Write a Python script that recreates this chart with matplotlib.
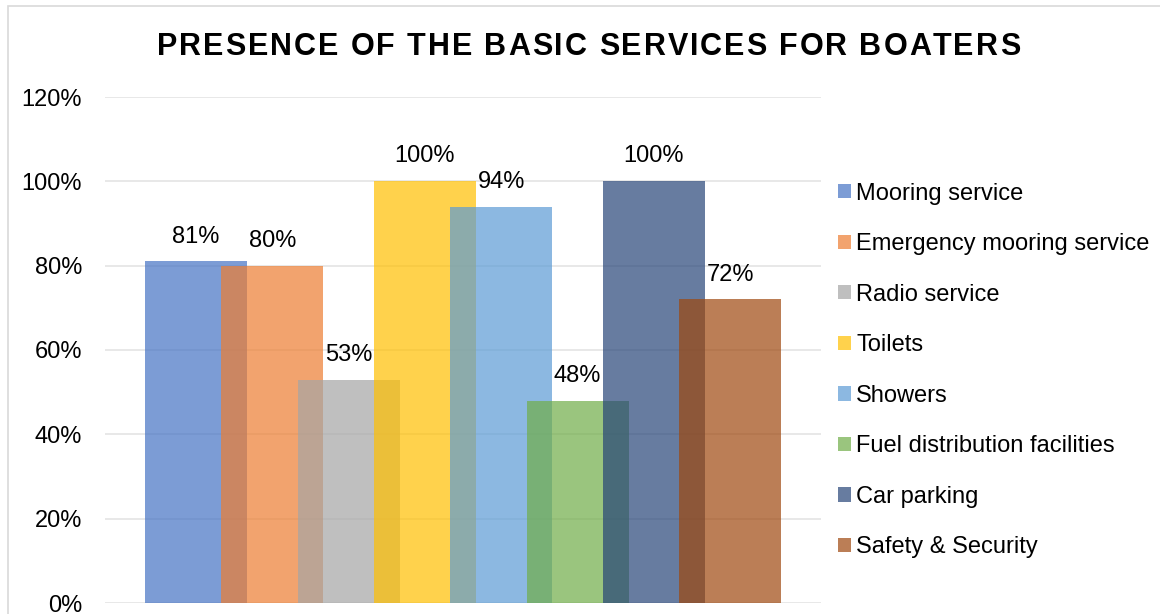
import numpy as np
import matplotlib
matplotlib.use("Agg")
import matplotlib.pyplot as plt
from matplotlib.patches import Patch, Rectangle
from matplotlib.ticker import FuncFormatter
from matplotlib.ft2font import FT2Font
from matplotlib.font_manager import findfont, FontProperties

plt.rcParams['font.family'] = ['Liberation Sans', 'DejaVu Sans']

title = "PRESENCE OF THE BASIC SERVICES FOR BOATERS"
services = ["Mooring service", "Emergency mooring service", "Radio service", "Toilets",
            "Showers", "Fuel distribution facilities", "Car parking", "Safety & Security"]
shares = [0.81, 0.80, 0.53, 1.00, 0.94, 0.48, 1.00, 0.72]
colors = ["#4472C4", "#ED7D31", "#A5A5A5", "#FFC000",
          "#5B9BD5", "#70AD47", "#264478", "#9E480E"]
yticks = [0.0, 0.2, 0.4, 0.6, 0.8, 1.0, 1.2]

W, H, DPI = 1160, 614, 100
fig = plt.figure(figsize=(W / DPI, H / DPI), dpi=DPI)
fig.patch.set_facecolor("white")

# chart-area border
fig.add_artist(Rectangle((8 / W, -0.1), 1.2, (1 - 6 / H) + 0.1, transform=fig.transFigure,
                         fill=False, edgecolor="#D9D9D9", linewidth=1.2, clip_on=False))

ax = fig.add_axes([105 / W, 11 / H, (821 - 105) / W, (603 - 97) / H])
ax.set_facecolor("none")

pos = np.arange(len(shares))
alpha = 0.7
ax.bar(pos, shares, width=1.337, color=colors, alpha=alpha, zorder=2, linewidth=0)

for x, v in zip(pos, shares):
    ax.annotate(f"{v * 100:.0f}%", (x, v), xytext=(0, 10), textcoords="offset points",
                ha="center", va="bottom", fontsize=17, color="#000000")

ax.set_xlim(-1.193, 8.19)
ax.set_ylim(0, 1.2)
ax.set_yticks(yticks)
ax.yaxis.set_major_formatter(FuncFormatter(lambda v, p: f"{v * 100:.0f}%"))
ax.tick_params(axis="y", length=0, pad=16.5, labelsize=17, labelcolor="#000000")
ax.set_xticks([])
ax.grid(axis="y", color="#E6E6E6", linewidth=1.3, zorder=0)
ax.set_axisbelow(True)
for s in ax.spines.values():
    s.set_visible(False)

# legend
handles = [Patch(facecolor=c, alpha=alpha, linewidth=0) for c in colors]
ax.legend(handles, services, loc="center left", bbox_to_anchor=(838 / W, 1 - 370.5 / H),
          bbox_transform=fig.transFigure, frameon=False, fontsize=17,
          handlelength=0.55, handleheight=0.55, handletextpad=0.22,
          labelspacing=1.21, borderpad=0, borderaxespad=0)

# letter-spaced bold title
fp = FontProperties(family="Liberation Sans", weight="bold", size=22)
ft = FT2Font(findfont(fp))
ft.set_size(22, DPI)
adv = [ft.load_char(ord(c)).linearHoriAdvance / 65536 for c in title]
target_left, target_right = 157, 1020
spacing = ((target_right - target_left) - sum(adv)) / (len(title) - 1)
x = target_left
for c, a in zip(title, adv):
    if c != " ":
        fig.text(x / W, 1 - 55 / H, c, fontproperties=fp, ha="left", va="baseline",
                 color="#000000")
    x += a + spacing

fig.savefig("out.png", dpi=DPI)
